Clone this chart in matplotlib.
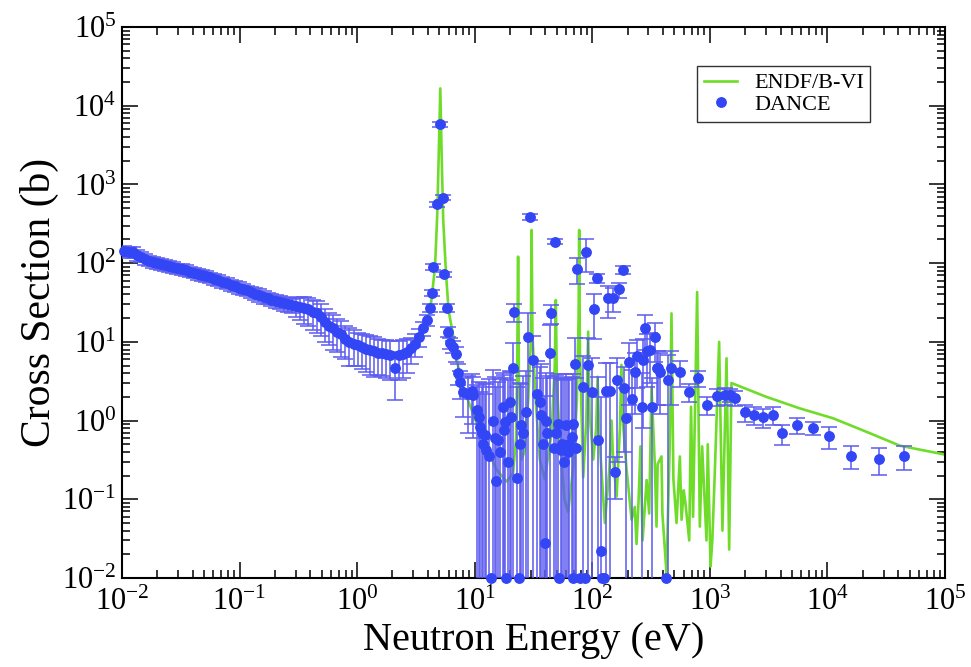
import numpy as np
import matplotlib
matplotlib.use("Agg")
import matplotlib.pyplot as plt
from matplotlib.ticker import LogLocator, FuncFormatter, NullFormatter

plt.rcParams['font.family'] = ['Liberation Serif', 'DejaVu Serif']
plt.rcParams['mathtext.fontset'] = 'custom'
plt.rcParams['mathtext.rm'] = 'Liberation Serif'
plt.rcParams['mathtext.it'] = 'Liberation Serif:italic'

# ENDF/B-VI evaluated cross section (eV, barn)
endf_e = [0.01, 0.015, 0.02, 0.03, 0.05, 0.1, 0.2, 0.3, 0.5, 0.7, 1.0, 1.5, 2.0, 2.5, 3.0,
          3.5, 4.0, 4.3, 4.6, 4.8, 4.95, 5.1, 5.25, 5.4, 5.7, 6.0, 6.5, 7.2, 8.0, 8.8, 10.4,
          12.6, 15.3, 18.6, 21.2, 22.5, 23.0, 23.4, 23.8, 25.0, 26.5, 28.5, 30.0, 30.5, 31.0,
          33.0, 35.8, 39.5, 45.0, 48.0, 49.0, 50.0, 53.0, 58.0, 62.4, 69.0, 74.0, 76.5, 77.4,
          78.5, 83.8, 89.0, 92.3, 95.0, 102, 108, 111, 115, 128, 140, 146, 150, 161, 172, 177,
          183, 195, 216, 230, 238, 248, 257, 268, 290, 305, 319, 341, 352, 360, 388, 395, 428,
          457, 472, 490, 521, 556, 575, 600, 620, 668, 692, 720, 780, 822, 860, 937, 960,
          1014, 1050, 1100, 1200, 1280, 1387, 1460, 1528, 3030, 5820, 11170, 21500, 41300,
          100000]
endf_xs = [150, 118, 104, 88, 70, 48, 33, 28, 20, 13.5, 9.5, 7.4, 6.6, 6.8, 8.5,
           12, 18, 35, 90, 400, 2500, 16600, 2000, 355, 75, 25, 13, 5, 2.7, 1.8, 0.92,
           0.47, 0.24, 0.168, 0.214, 0.6, 5, 121, 3, 0.32, 0.4, 1.8, 10, 264, 12,
           1.8, 0.32, 0.18, 0.69, 5, 34, 3, 0.57, 0.1, 0.069, 0.26, 1.8, 20, 264,
           8, 0.19, 1.0, 13.5, 1.2, 0.32, 0.8, 3.6, 0.6, 0.05, 0.25, 1.0, 0.35, 0.108, 0.8, 5.1,
           0.9, 0.26, 0.055, 0.08, 0.027, 0.1, 0.47, 0.03, 0.176, 0.066, 2.7, 0.26, 0.045, 0.28,
           0.35, 0.066, 0.0115, 0.57, 23, 0.18, 0.05, 0.35, 0.055, 0.13, 0.09, 0.03, 1.5, 0.06,
           43, 0.045, 0.47, 0.03, 0.5, 0.014, 0.03, 0.2, 10, 0.04, 6.2, 0.023, 3.0, 2.0, 1.43,
           1.07, 0.72, 0.48, 0.37]

# DANCE measurement: energy (eV), cross section (b), error (b); nan = no error bar
dance_e = [0.0105, 0.0114, 0.0123, 0.0133, 0.0144, 0.0156, 0.0169, 0.0183, 0.0198, 0.0215,
           0.0233, 0.0252, 0.0273, 0.0296, 0.0321, 0.0348, 0.0377, 0.0408, 0.0442, 0.0479,
           0.0519, 0.0562, 0.0609, 0.066, 0.0715, 0.0775, 0.084, 0.091, 0.0986, 0.107,
           0.116, 0.125, 0.136, 0.147, 0.16, 0.173, 0.187, 0.203, 0.22, 0.238,
           0.258, 0.28, 0.303, 0.329, 0.356, 0.386, 0.418, 0.453, 0.491, 0.532,
           0.576, 0.624, 0.676, 0.733, 0.794, 0.86, 0.932, 1.01, 1.09, 1.18,
           1.28, 1.39, 1.51, 1.63, 1.77, 1.92, 2.08, 2.25, 2.44, 2.64,
           2.86, 3.1, 3.36, 3.64, 3.94,
           4.16, 4.3, 4.43, 4.75, 5.05, 5.35, 5.5, 5.83, 5.96, 6.15, 6.56, 6.92, 7.24, 7.48,
           7.95, 8.8, 9.4, 9.7, 10.4, 10.8, 11.0, 11.5, 11.8, 12.2, 12.6, 13.2, 13.9, 14.4,
           14.8, 15.1, 15.9, 16.5, 17.3, 17.8, 18.1, 18.6, 19.3, 19.9, 20.4, 21.0, 21.7, 22.7,
           23.8, 24.4, 25.0, 26.0, 27.2, 28.5, 29.4, 31.4, 33.6, 36.0, 37.0, 38.0, 39.5, 40.8,
           41.6, 43.6, 45.0, 47.0, 48.0, 49.5, 51.0, 52.0, 53.7, 55.5, 57.0, 59.3, 62.0, 64.0,
           66.7, 68.0, 69.0, 71.0, 72.5, 74.4, 78.5, 83.7, 86.0, 88.4, 92.3, 98.6, 103.0,
           108.7, 112.0, 118.0, 120.0, 125.0,
           132.0, 136.0, 141.0, 151.0, 156.0, 161.0, 169.0, 181.0, 186.0, 195.0, 206.0, 216.0,
           230.0, 238.0, 263.0, 268.0, 280.0, 295.0, 309.0, 325.0, 341.0, 352.0, 364.0, 376.0,
           428.0, 441.0, 464.0, 556.0, 662.0, 795.0, 949.0, 1140.0, 1343.0, 1480.0, 1633.0,
           1986.0, 2383.0, 2840.0, 3450.0, 4150.0, 5460.0, 7550.0, 10330.0, 16000.0, 27300.0,
           44700.0]
dance_xs = [142, 140, 137, 128, 121, 113, 108, 104, 100, 97,
            95, 92, 89, 86, 84, 81, 78, 76, 73, 71,
            68, 66, 63, 61, 58, 56, 53, 51, 49, 47,
            45, 43, 41, 39.5, 37.5, 36, 34.5, 33, 32, 31,
            30, 29, 28.5, 28, 27, 26, 24, 23, 21, 18,
            16, 15, 13.5, 12.5, 11, 10, 9.5, 9, 8.5, 8.2,
            7.8, 7.6, 7.3, 7.2, 7.0, 6.8, 4.6, 6.8, 7.0, 7.5,
            8.3, 9.5, 11.5, 15, 19,
            27, 42, 90, 560, 5800, 680, 72, 27, 13.5, 9.6, 8.7, 7.0, 4.0, 3.1,
            2.3, 2.2, 2.4, 2.1, 1.36, 1.1, 0.84, 0.69, 0.5, 0.66, 0.42, 0.35, 0.01, 1.0,
            0.6, 0.17, 0.57, 0.4, 1.5, 0.75, 0.96, 0.01, 0.3, 1.74, 1.1, 4.6, 24, 0.185,
            0.01, 0.5, 0.88, 0.7, 1.3, 11.4, 390, 5.8, 2.2, 1.74, 1.18, 0.5, 0.028, 1.0,
            0.69, 7.2, 23, 0.45, 188, 0.69, 0.9, 0.01, 0.42, 0.5, 0.3, 0.88, 0.40, 0.5,
            0.62, 0.9, 0.01, 5.3, 0.45, 85, 0.01, 2.7, 0.01, 140, 5.1, 2.3, 26,
            64, 0.57, 0.022, 0.01, 0.01,
            2.4, 36, 2.4, 36, 0.22, 3.3, 46.6, 82, 2.6, 1.07, 5.6, 1.9,
            4.2, 6.6, 1.5, 5.8, 15, 7.7, 8.0, 1.5, 11.6, 4.6, 4.6, 4.2,
            0.01, 3.3, 4.6, 4.2, 2.3, 3.5, 1.57, 2.05, 2.1, 2.1, 1.95,
            1.27, 1.18, 1.1, 1.18, 0.69, 0.88, 0.80, 0.64, 0.36, 0.325,
            0.357]
nan = float('nan')
dance_err = [22, 22, 22, 20, 19, 18, 17, 16, 16, 15,
             15, 14, 14, 13, 13, 13, 12, 12, 11, 11,
             11, 10, 10, 10, 9, 9, 9, 8, 8, 8,
             7, 7, 7, 7, 7, 6, 6, 6, 6, 6,
             6, 6, 8, 9, 10, 10, 10, 10, 9, 8,
             7, 7, 6, 6, 5, 5, 4.5, 4, 4, 4,
             4, 4, 3.5, 3.5, 3.5, 3.5, 2.8, 3.5, 3.5, 3.5,
             3, 3, 3, 3, 3,
             3, 4, 8, 40, 400, 50, 6, 3, 2, 1.5, 1.5, 1.5, 1.2, 1.2,
             1.2, 1.5, 1.5, 1.5, 1.5, 2, 1.5, 2, 2.5, 1.5, 2.5, 3, nan, 3.4,
             3, 2.5, 2.5, 3, 2.5, 3, 2.5, nan, 3, 2.5, 3, 5, 6, 2.5,
             nan, 2.5, 2, 3, 3, 12, 35, 6, 3.5, 3, 4, 3, 2, 3,
             3, 9, 6, 3, 12, 3, 3, nan, 3, 3, 3, 3, 3, 3,
             3, 3, nan, 6, 3, 30, nan, 4, nan, 63, 6, 4, 15,
             8, 3, 2.0, nan, nan,
             3, 16, 3, 12, 0.12, 3, 10, 10, 2.2, 1.5, 4, 2.5,
             3, 4, 2.5, 5, 7, 5, 5, 2, 6, 3, 3, 3,
             nan, 3.5, 3, 1.5, 0.6, 0.8, 0.4, 0.5, 0.5, 0.4, 0.4,
             0.3, 0.3, 0.3, 0.3, 0.2, 0.2, 0.15, 0.2, 0.12, 0.12,
             0.12]

fig = plt.figure(figsize=(9.71, 6.67), dpi=100)
ax = fig.add_subplot(111)
fig.subplots_adjust(left=0.1256, right=0.9732, bottom=0.1334, top=0.9595)

ax.set_xscale('log')
ax.set_yscale('log')

# evaluated curve below the measured points
ax.plot(endf_e, endf_xs, color='#6fdc2a', lw=1.9, zorder=2, label='ENDF/B-VI')

eb = ax.errorbar(dance_e, dance_xs, yerr=dance_err, fmt='o', ms=6.8,
                 color='#3346f5', mec='#3346f5', ecolor='#5c5cf0', elinewidth=1.4,
                 capsize=6, capthick=1.3, zorder=3, label='DANCE')
for part in eb.lines[2]:
    part.set_alpha(0.8)
for cap in eb.lines[1]:
    cap.set_alpha(0.85)
# points sitting on the bottom axis are drawn in full
eb.lines[0].set_clip_on(False)

ax.set_xlim(1e-2, 1e5)
ax.set_ylim(1e-2, 1e5)

# ticks: inward, on every side, log minor ticks
for axis in (ax.xaxis, ax.yaxis):
    axis.set_major_locator(LogLocator(base=10, numticks=20))
    axis.set_minor_locator(LogLocator(base=10, subs=np.arange(2, 10), numticks=100))
    axis.set_minor_formatter(NullFormatter())
    axis.set_major_formatter(FuncFormatter(lambda v, p: r'$10^{%d}$' % round(np.log10(v))))
ax.tick_params(which='both', direction='in', top=True, right=True, width=1.1)
ax.tick_params(which='major', length=11.5, labelsize=22)
ax.tick_params(which='minor', length=5.8)
ax.tick_params(axis='x', pad=7)
ax.tick_params(axis='y', pad=4)
for s in ax.spines.values():
    s.set_linewidth(1.5)

ax.set_xlabel('Neutron Energy (eV)', fontsize=29, labelpad=4)
ax.set_ylabel('Cross Section (b)', fontsize=30, labelpad=2)

leg = ax.legend(handles=[ax.lines[0], eb.lines[0]], labels=['ENDF/B-VI', 'DANCE'],
                loc='upper left', bbox_to_anchor=(0.699, 0.929), borderaxespad=0,
                fontsize=16, frameon=True, fancybox=False, edgecolor='black',
                handlelength=1.5, handletextpad=0.75, borderpad=0.3, labelspacing=0.05)
leg.get_frame().set_linewidth(1.0)

fig.savefig('out.png', dpi=100)
